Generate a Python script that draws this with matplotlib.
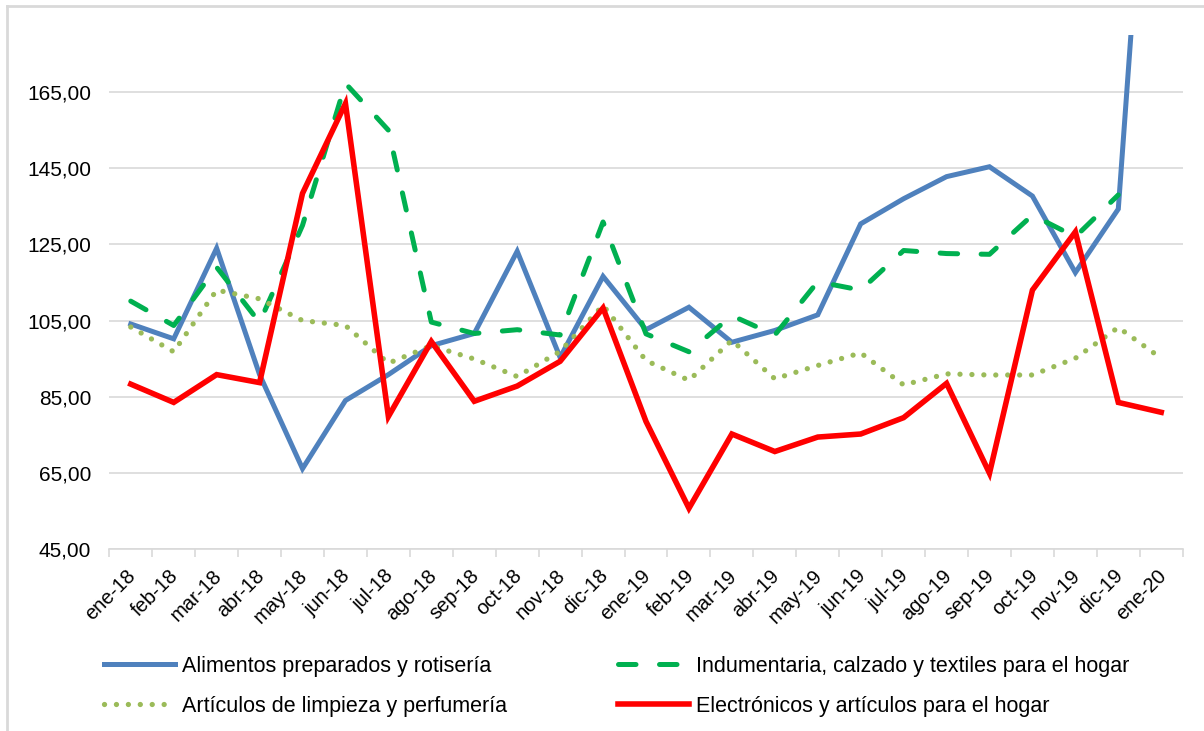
import matplotlib
matplotlib.use('Agg')
import matplotlib.pyplot as plt
import matplotlib.transforms as mtransforms
from matplotlib.lines import Line2D

plt.rcParams['font.family'] = ['Liberation Sans', 'DejaVu Sans']

# Data
months = ['ene-18', 'feb-18', 'mar-18', 'abr-18', 'may-18', 'jun-18', 'jul-18',
          'ago-18', 'sep-18', 'oct-18', 'nov-18', 'dic-18', 'ene-19', 'feb-19',
          'mar-19', 'abr-19', 'may-19', 'jun-19', 'jul-19', 'ago-19', 'sep-19',
          'oct-19', 'nov-19', 'dic-19', 'ene-20']

alimentos = [104.1, 100.2, 124.0, 90.8, 66.1, 84.0, 90.8, 98.4, 101.6, 123.2,
             95.3, 116.6, 102.6, 108.5, 99.3, 102.4, 106.5, 130.4, 137.0, 142.8,
             145.4, 137.7, 117.6, 134.3, 290.0]
indumentaria = [110.1, 103.7, 119.0, 104.5, 130.0, 167.3, 155.0, 104.6, 101.6,
                102.6, 101.2, 130.9, 101.5, 96.8, 106.3, 101.2, 115.2, 113.0,
                123.4, 122.6, 122.4, 132.7, 127.0, 138.0, None]
limpieza = [103.3, 96.8, 113.0, 110.7, 105.0, 103.7, 93.8, 98.4, 94.9, 90.3,
            96.9, 109.0, 94.5, 89.3, 99.8, 89.7, 93.2, 96.5, 88.1, 91.0, 90.7,
            90.7, 95.1, 103.2, 95.1]
electronicos = [88.3, 83.5, 90.8, 88.7, 138.4, 162.0, 79.8, 99.5, 83.8, 87.8,
                94.3, 108.3, 78.5, 55.7, 75.2, 70.6, 74.4, 75.2, 79.5, 88.5, 64.9,
                113.0, 128.3, 83.5, 80.9]

labels = ['Alimentos preparados y rotisería',
          'Indumentaria, calzado y textiles para el hogar',
          'Artículos de limpieza y perfumería',
          'Electrónicos y artículos para el hogar']

yticks = [45, 65, 85, 105, 125, 145, 165]

fig = plt.figure(figsize=(12.04, 7.31), dpi=100)
ax = fig.add_axes([109.3 / 1204, 1 - 549 / 731, (1182.7 - 109.3) / 1204, (549 - 35) / 731])

x = list(range(len(months)))
ind_x = [i for i, v in zip(x, indumentaria) if v is not None]
ind_y = [v for v in indumentaria if v is not None]

l1, = ax.plot(x, alimentos, color='#4f81bd', lw=3.6, solid_joinstyle='miter', zorder=3)
l2, = ax.plot(ind_x, ind_y, color='#00b050', lw=3.6, linestyle=(0, (3.5, 4.7)),
              dash_capstyle='round', zorder=3)
l3, = ax.plot(x, limpieza, color='#9bbb59', lw=3.8, linestyle=(0, (0.01, 2.25)),
              dash_capstyle='round', zorder=3)
l4, = ax.plot(x, electronicos, color='#ff0000', lw=4.0, solid_joinstyle='miter', zorder=4)

ax.set_xlim(-0.5, len(months) - 0.5)
ax.set_ylim(45, 180)
ax.set_yticks(yticks)
ax.set_yticklabels([f'{v:.2f}'.replace('.', ',') for v in yticks], fontsize=15)
ax.yaxis.grid(True, color='#d9d9d9', lw=1.2)
ax.set_axisbelow(True)
ax.tick_params(axis='y', length=0, pad=13)

ax.set_xticks(x)
ax.set_xticklabels(months, fontsize=14.5, rotation=45, ha='right', va='center',
                   rotation_mode='anchor')
ax.set_xticks([i - 0.5 for i in range(len(months) + 1)], minor=True)
ax.tick_params(axis='x', which='major', length=0, pad=17)
ax.tick_params(axis='x', which='minor', length=6, color='#d9d9d9', width=1.2)
offset = mtransforms.ScaledTranslation(2 / 100, 0, fig.dpi_scale_trans)
for lab in ax.get_xticklabels():
    lab.set_transform(lab.get_transform() + offset)

for side in ['top', 'right', 'left']:
    ax.spines[side].set_visible(False)
ax.spines['bottom'].set_color('#d9d9d9')
ax.spines['bottom'].set_linewidth(1.2)

# Outer chart border (only the left and top edges are visible)
fig.add_artist(Line2D([7 / 1204, 7 / 1204], [0, 1 - 6 / 731], transform=fig.transFigure,
                      color='#d9d9d9', lw=2))
fig.add_artist(Line2D([7 / 1204, 1], [1 - 6 / 731, 1 - 6 / 731], transform=fig.transFigure,
                      color='#d9d9d9', lw=2))

# Legend in two columns, placed as two separate legends
leg_kw = dict(loc='upper left', bbox_transform=fig.transFigure, frameon=False,
              fontsize=15.5, handlelength=3.3, handletextpad=0.3,
              labelspacing=0.86, borderpad=0, borderaxespad=0)
leg1 = fig.legend([l1, l3], [labels[0], labels[2]],
                  bbox_to_anchor=(104 / 1204, 1 - 656 / 731), **leg_kw)
leg2 = fig.legend([l2, l4], [labels[1], labels[3]],
                  bbox_to_anchor=(618 / 1204, 1 - 656 / 731), **leg_kw)

fig.savefig('out.png', dpi=100)
